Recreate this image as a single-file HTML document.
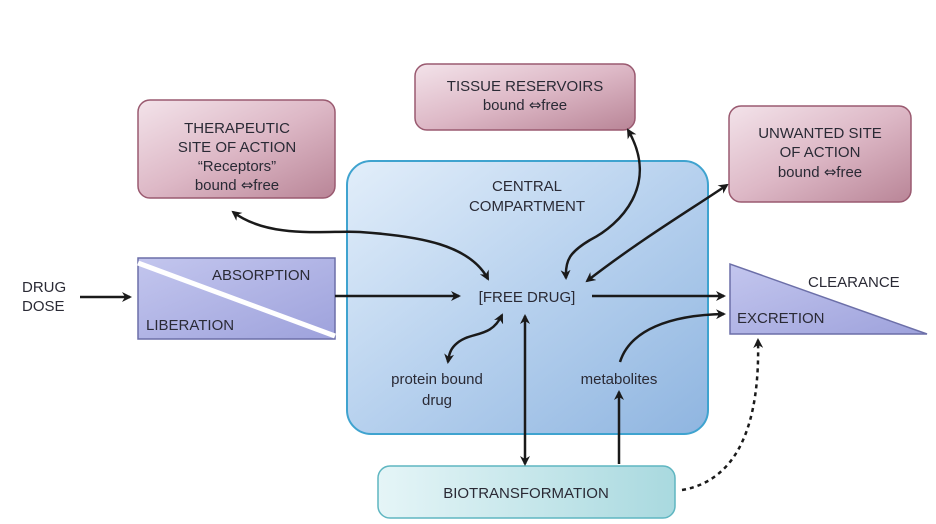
<!DOCTYPE html>
<html><head><meta charset="utf-8"><style>
html,body{margin:0;padding:0;background:#fff;}
svg{display:block;font-family:"Liberation Sans",sans-serif;}
text{fill:#2a2a35;font-size:15px;}
.d{font-family:"DejaVu Sans",sans-serif;font-size:15px;}
</style></head><body>
<svg width="936" height="524" viewBox="0 0 936 524" xmlns="http://www.w3.org/2000/svg">
<defs>
<linearGradient id="pk" x1="0" y1="0" x2="1" y2="1"><stop offset="0" stop-color="#f3e3ea"/><stop offset="0.5" stop-color="#ddb8c6"/><stop offset="1" stop-color="#b98597"/></linearGradient>
<linearGradient id="bl" x1="0" y1="0" x2="1" y2="1"><stop offset="0" stop-color="#e2eefa"/><stop offset="0.5" stop-color="#b7d1ee"/><stop offset="1" stop-color="#8fb5e0"/></linearGradient>
<linearGradient id="tl" x1="0" y1="0" x2="1" y2="0"><stop offset="0" stop-color="#e5f5f7"/><stop offset="1" stop-color="#a9d9df"/></linearGradient>
<linearGradient id="pu" x1="0" y1="0" x2="1" y2="1"><stop offset="0" stop-color="#c3c6ee"/><stop offset="1" stop-color="#9ea2dc"/></linearGradient>
<marker id="a" markerWidth="10" markerHeight="10" refX="8" refY="5" orient="auto-start-reverse" markerUnits="userSpaceOnUse"><path d="M0,0 L10,5 L0,10 L3,5 z" fill="#1a1a1a"/></marker>
</defs>

<rect x="347" y="161" width="361" height="273" rx="24" fill="url(#bl)" stroke="#3fa3cf" stroke-width="2"/>
<rect x="138" y="100" width="197" height="98" rx="12" fill="url(#pk)" stroke="#9a5a70" stroke-width="1.5"/>
<rect x="415" y="64" width="220" height="66" rx="12" fill="url(#pk)" stroke="#9a5a70" stroke-width="1.5"/>
<rect x="729" y="106" width="182" height="96" rx="12" fill="url(#pk)" stroke="#9a5a70" stroke-width="1.5"/>
<rect x="378" y="466" width="297" height="52" rx="12" fill="url(#tl)" stroke="#5fb6c1" stroke-width="1.5"/>

<rect x="138" y="258" width="197" height="81" fill="url(#pu)" stroke="#6c6fa8" stroke-width="1.5"/>
<line x1="138" y1="263" x2="335" y2="336" stroke="#fff" stroke-width="5"/>
<polygon points="730,264 730,334 927,334" fill="url(#pu)" stroke="#6c6fa8" stroke-width="1.5"/>

<g text-anchor="middle">
<text x="237" y="133">THERAPEUTIC</text>
<text x="237" y="152">SITE OF ACTION</text>
<text x="237" y="171">“Receptors”</text>
<text x="237" y="190">bound <tspan class="d">⇔</tspan>free</text>
<text x="525" y="91">TISSUE RESERVOIRS</text>
<text x="525" y="110">bound <tspan class="d">⇔</tspan>free</text>
<text x="820" y="138">UNWANTED SITE</text>
<text x="820" y="157">OF ACTION</text>
<text x="820" y="177">bound <tspan class="d">⇔</tspan>free</text>
<text x="527" y="191">CENTRAL</text>
<text x="527" y="211">COMPARTMENT</text>
<text x="527" y="302" font-size="16">[FREE DRUG]</text>
<text x="437" y="384">protein bound</text>
<text x="437" y="405">drug</text>
<text x="619" y="384">metabolites</text>
<text x="526" y="498">BIOTRANSFORMATION</text>
</g>
<text x="22" y="292">DRUG</text>
<text x="22" y="311">DOSE</text>
<text x="212" y="280" font-size="15.5">ABSORPTION</text>
<text x="146" y="330" font-size="15.5">LIBERATION</text>
<text x="808" y="287">CLEARANCE</text>
<text x="737" y="323" font-size="15.5">EXCRETION</text>

<g stroke="#1a1a1a" stroke-width="2.5" fill="none">
<line x1="80" y1="297" x2="130" y2="297" marker-end="url(#a)"/>
<line x1="335" y1="296" x2="459" y2="296" marker-end="url(#a)"/>
<line x1="592" y1="296" x2="724" y2="296" marker-end="url(#a)"/>
<path d="M233,212 C270,240 330,230 360,232 C420,236 470,245 488,279" marker-start="url(#a)" marker-end="url(#a)"/>
<path d="M628,130 C660,185 620,225 590,240 C570,252 565,260 566,278" marker-start="url(#a)" marker-end="url(#a)"/>
<path d="M727,185 C690,210 640,240 587,281" marker-start="url(#a)" marker-end="url(#a)"/>
<path d="M502,315 C490,340 470,330 455,345 C450,350 449,355 448,362" marker-start="url(#a)" marker-end="url(#a)"/>
<line x1="525" y1="316" x2="525" y2="464" marker-start="url(#a)" marker-end="url(#a)"/>
<line x1="619" y1="392" x2="619" y2="464" marker-start="url(#a)"/>
<path d="M620,362 C630,330 670,315 724,314" marker-end="url(#a)"/>
<path d="M682,490 C740,480 760,420 758,340" stroke-dasharray="4,4" marker-end="url(#a)"/>
</g>
</svg>
</body></html>
